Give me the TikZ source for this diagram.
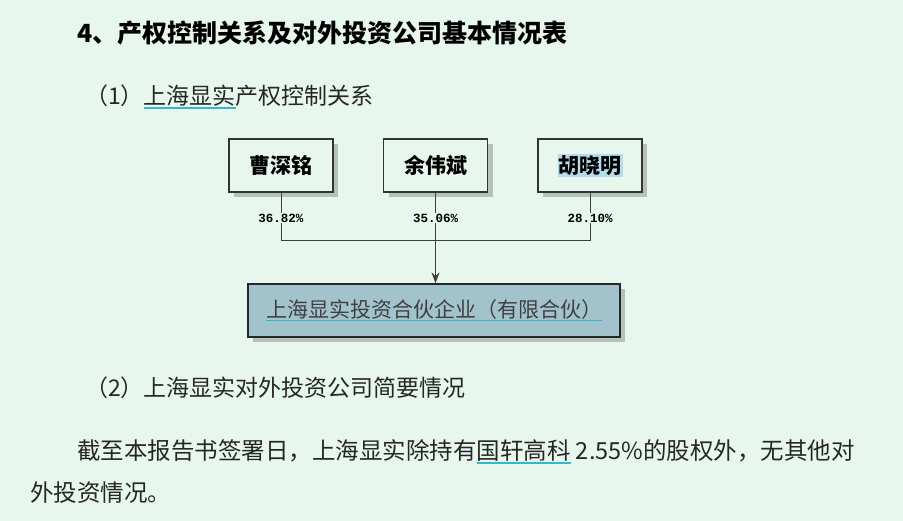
\documentclass[tikz,border=0pt]{standalone}
\usepackage{fontspec}
\setmainfont{Noto Sans CJK SC}
\newfontfamily\pctfont{Liberation Mono}
\usetikzlibrary{arrows.meta,shadows}
\definecolor{bgcol}{HTML}{E7F7EE}
\definecolor{ulcol}{HTML}{35B8C8}
\definecolor{fundcol}{HTML}{A3C3CC}
\definecolor{shcol}{HTML}{B4C2BC}
\definecolor{hlcol}{HTML}{B6DCEB}
\newcommand{\culine}[1]{\setbox0\hbox{#1}\rlap{\color{ulcol}\rule[-4pt]{\wd0}{1.6pt}}\box0\relax}
\newcommand{\hlite}[1]{{\setlength\fboxsep{1pt}\colorbox{hlcol}{#1}}}

\begin{document}
\begin{tikzpicture}[x=1pt, y=-1pt,
  txt/.style={anchor=west, inner sep=0, text=black!85},
  holder/.style={draw=black!80, line width=1.3pt, fill=bgcol, minimum width=104pt,
    minimum height=53pt, font=\fontsize{21}{21}\selectfont\bfseries,
    drop shadow={shadow xshift=5pt, shadow yshift=-5pt, fill=shcol, opacity=1}},
  pct/.style={inner sep=1pt, font=\pctfont\fontsize{12.5}{12.5}\selectfont\bfseries},
  link/.style={draw=black!75, line width=0.9pt}]
  \fill[bgcol] (0,0) rectangle (903,521);

  \node[txt, text=black, font=\fontsize{25}{25}\selectfont\bfseries] (title) at (77,33)
    {4、产权控制关系及对外投资公司基本情况表};
  \node[txt, font=\fontsize{23}{23}\selectfont] (sec1) at (85,97)
    {（1）\culine{上海显实}产权控制关系};

  \node[holder] (cao) at (281,165.5) {曹深铭};
  \node[holder] (yu) at (435.5,165.5) {余伟斌};
  \node[holder] (hu) at (590,165.5) {\hlite{胡晓明}};

  \node[pct] (p1) at (281,218) {36.82\%};
  \node[pct] (p2) at (435.5,218) {35.06\%};
  \node[pct] (p3) at (590,218) {28.10\%};

  \node[draw=black!85, line width=1.3pt, fill=fundcol, minimum width=372pt, minimum height=53pt,
    font=\fontsize{21}{21}\selectfont, text=black!75,
    drop shadow={shadow xshift=5pt, shadow yshift=-5pt, fill=shcol, opacity=1}]
    (fund) at (434,310.5) {\culine{上海显实投资合伙企业（有限合伙）}};

  \coordinate (j1) at (281,240);
  \coordinate (j2) at (435.5,240);
  \coordinate (j3) at (590,240);

  \draw[link] (cao) -- (p1);
  \draw[link] (yu) -- (p2);
  \draw[link] (hu) -- (p3);
  \draw[link] (p1) -- (j1) -- (j3) -- (p3);
  \draw[link] (p2) -- (j2);
  \draw[link, -{Stealth[length=11pt, width=8pt]}] (j2) -- (j2 |- fund.north);

  \node[txt, font=\fontsize{23}{23}\selectfont] (sec2) at (85,388)
    {（2）上海显实对外投资公司简要情况};
  \node[txt, font=\fontsize{23.5}{23.5}\selectfont] (body1) at (77,452)
    {截至本报告书签署日，上海显实除持有\culine{国轩高科} 2.55\%的股权外，无其他对};
  \node[txt, font=\fontsize{23.5}{23.5}\selectfont] (body2) at (30,493)
    {外投资情况。};
\end{tikzpicture}
\end{document}
